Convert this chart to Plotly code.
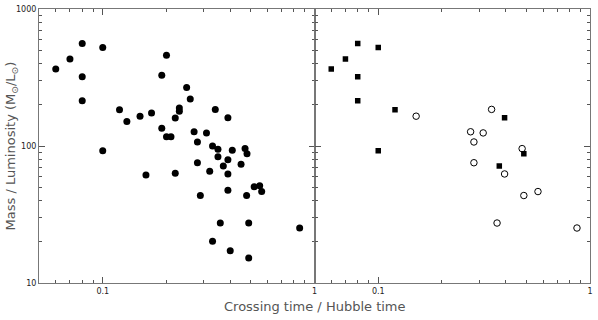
import plotly.graph_objects as go

# --- dane ---
# lewy panel: wszystkie obiekty (pełne kółka)
all_x = [0.060, 0.070, 0.080, 0.080, 0.080, 0.100, 0.100, 0.120, 0.130, 0.150,
         0.170, 0.190, 0.200, 0.190, 0.200, 0.210, 0.220, 0.230, 0.230, 0.249,
         0.259, 0.270, 0.280, 0.309, 0.340, 0.330, 0.350, 0.350, 0.390, 0.390,
         0.409, 0.470, 0.480, 0.280, 0.371, 0.450, 0.160, 0.220, 0.320, 0.390,
         0.519, 0.551, 0.563, 0.390, 0.289, 0.478, 0.359, 0.489, 0.851, 0.330,
         0.400, 0.489]
all_y = [365, 431, 561, 320, 214, 523, 92.5, 184, 151, 165,
         174, 329, 460, 134.6, 117, 117, 160, 189, 179, 267,
         220, 127, 107, 124.6, 185, 100, 94.6, 83.4, 161, 79.5,
         93, 95.7, 87.7, 75.5, 71.4, 73.5, 61.5, 63.2, 65.4, 62.5,
         50.5, 51.3, 46.5, 47.5, 43.5, 43.5, 27.4, 27.4, 25.2, 20.2,
         17.2, 15.2]

# prawy panel: kwadraty (pełne) i puste kółka
sq_x = [0.060, 0.070, 0.080, 0.080, 0.080, 0.100, 0.100, 0.120, 0.395, 0.487, 0.373]
sq_y = [365, 431, 561, 320, 214, 523, 92.5, 184, 161, 87.7, 71.4]

open_x = [0.151, 0.343, 0.273, 0.313, 0.283, 0.478, 0.283, 0.395, 0.487, 0.568, 0.364, 0.868]
open_y = [165, 185, 127, 124.6, 107, 95.7, 75.5, 62.5, 43.5, 46.5, 27.4, 25.2]

x_major = [0.1, 1]
y_major = [10, 100, 1000]

fig = go.Figure()
fig.add_trace(go.Scatter(x=all_x, y=all_y, mode="markers",
                         marker=dict(symbol="circle", size=7, color="black"),
                         xaxis="x", yaxis="y", showlegend=False))
fig.add_trace(go.Scatter(x=sq_x, y=sq_y, mode="markers",
                         marker=dict(symbol="square", size=5.5, color="black"),
                         xaxis="x2", yaxis="y2", showlegend=False))
fig.add_trace(go.Scatter(x=open_x, y=open_y, mode="markers",
                         marker=dict(symbol="circle-open", size=6.5, color="black",
                                     line=dict(width=1)),
                         xaxis="x2", yaxis="y2", showlegend=False))

tick_font = dict(family="DejaVu Sans", size=8, color="#222")
axis_common = dict(type="log", showgrid=False, zeroline=False, showline=True,
                   linecolor="#777", linewidth=1, mirror="ticks",
                   ticks="inside", ticklen=6, tickwidth=1.2, tickcolor="#555",
                   tickfont=tick_font,
                   minor=dict(dtick="D1", ticks="inside", ticklen=3,
                              tickwidth=1.2, tickcolor="#555"))

xaxis_cfg = dict(axis_common, range=[-1.301, 0], tickvals=x_major,
                 ticktext=["0.1", "1"])
yaxis_cfg = dict(axis_common, range=[1, 3], tickvals=y_major,
                 ticktext=["10", "100", "1000"])

fig.update_layout(
    width=598, height=320,
    margin=dict(l=39, r=6, t=5, b=37),
    paper_bgcolor="white", plot_bgcolor="white",
    xaxis=dict(xaxis_cfg, domain=[0, 0.5], anchor="y"),
    yaxis=dict(yaxis_cfg, domain=[0, 1], anchor="x"),
    xaxis2=dict(xaxis_cfg, domain=[0.5, 1], anchor="y2"),
    yaxis2=dict(yaxis_cfg, domain=[0, 1], anchor="x2", showticklabels=False),
    annotations=[
        dict(text="Crossing time / Hubble time", xref="paper", yref="paper",
             x=0.5, y=-0.05, xanchor="center", yanchor="top", showarrow=False,
             font=dict(family="DejaVu Sans", size=13, color="#555")),
        dict(text="Mass / Luminosity (M<sub>⊙</sub>/L<sub>⊙</sub>)", xref="paper", yref="paper",
             x=-0.05, y=0.5, xanchor="center", yanchor="middle", showarrow=False,
             textangle=-90,
             font=dict(family="DejaVu Sans", size=13, color="#555")),
    ],
)

# margines strony (body) zerujemy, żeby wykres zaczynał się w rogu okna
fig.write_html("out.html", config={"displayModeBar": False},
               post_script="document.body.style.margin='0';")
